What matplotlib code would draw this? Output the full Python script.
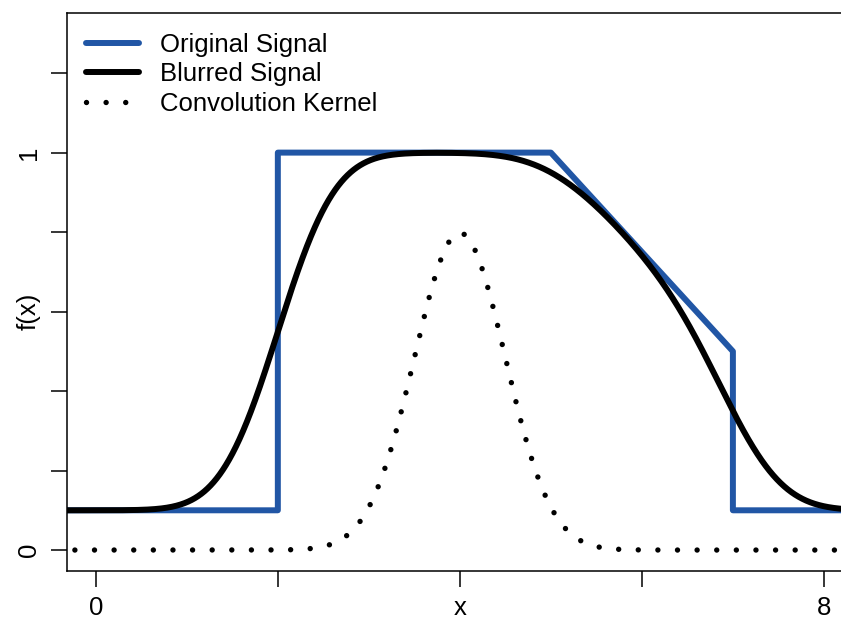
import numpy as np
import matplotlib.pyplot as plt

# Original (piecewise linear) signal breakpoints
signal_x = [-1.0, 2.0, 2.0, 5.0, 7.0, 7.0, 9.0]
signal_y = [0.1, 0.1, 1.0, 1.0, 0.5, 0.1, 0.1]

# Gaussian convolution kernel
kernel_mean = 4.0
kernel_sd = 0.5

x_ticks = [0, 2, 4, 6, 8]
x_labels = ['0', '', 'x', '', '8']
y_ticks = [0, 0.2, 0.4, 0.6, 0.8, 1.0, 1.2]
y_labels = ['0', '', '', 'f(x)', '', '1', '']

BLUE = '#2156a5'
plt.rcParams['font.family'] = ['Liberation Sans', 'DejaVu Sans']


def gauss(x, mu, sd):
    return np.exp(-0.5 * ((x - mu) / sd) ** 2) / (sd * np.sqrt(2 * np.pi))


# blurred signal = original convolved with kernel
dx = 0.002
grid = np.arange(-5, 13 + dx / 2, dx)
sig = np.interp(grid, signal_x, signal_y)
sig = np.where(grid < signal_x[0], signal_y[0], sig)
sig = np.where(grid > signal_x[-1], signal_y[-1], sig)
kx = np.arange(-4, 4 + dx / 2, dx)
blurred = np.convolve(sig, gauss(kx, 0, kernel_sd), mode='same') * dx
keep = (grid >= -1) & (grid <= 9)

kern_x = np.linspace(-0.23, 9, 3000)
kern_y = gauss(kern_x, kernel_mean, kernel_sd)

fig = plt.figure(figsize=(8.41, 6.2), dpi=100)
ax = fig.add_axes([0.0793, 0.0795, 0.935, 0.900])

ax.plot(signal_x, signal_y, color=BLUE, lw=4.3, solid_joinstyle='round',
        solid_capstyle='round', label='Original Signal')
ax.plot(grid[keep], blurred[keep], color='black', lw=4.3,
        solid_capstyle='round', label='Blurred Signal')
ax.plot(kern_x, kern_y, color='black', lw=3.9, dashes=(0.001, 3.62),
        dash_capstyle='round', label='Convolution Kernel')

ax.set_xlim(-0.32, 8.32)
ax.set_ylim(-0.052, 1.352)
ax.set_xticks(x_ticks)
ax.set_xticklabels(x_labels)
ax.set_yticks(y_ticks)
ax.set_yticklabels(y_labels, rotation=90, va='center')
ax.tick_params(length=11.5, width=1.1, labelsize=18.5, pad=7)
for s in ax.spines.values():
    s.set_linewidth(1.1)

ax.legend(loc='upper left', bbox_to_anchor=(0.025, 0.964), frameon=False,
          fontsize=18.5, handlelength=2.05, handletextpad=0.82, labelspacing=0.21,
          borderpad=0, borderaxespad=0)

fig.savefig('out.png', dpi=100)
